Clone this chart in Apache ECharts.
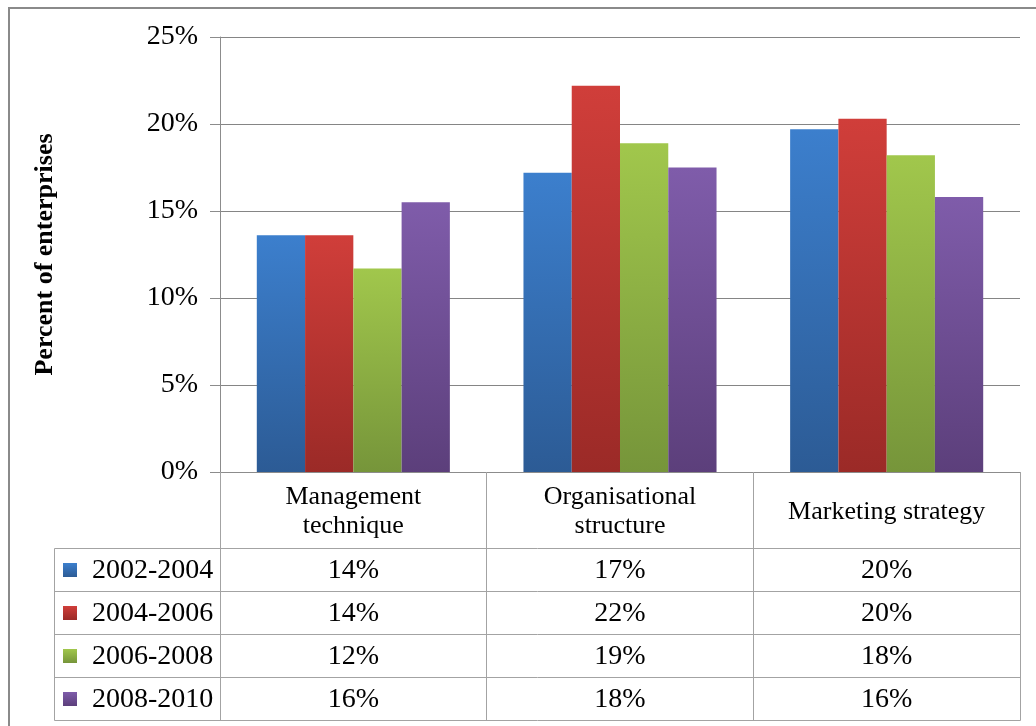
<!DOCTYPE html>
<html>
<head>
<meta charset="utf-8">
<title>Percent of enterprises</title>
<script src="https://cdn.jsdelivr.net/npm/echarts@6/dist/echarts.min.js"></script>
<style>
  html, body { margin: 0; padding: 0; background: #fff; }
  #chart { width: 1036px; height: 726px; }
</style>
</head>
<body>
<div id="chart"></div>
<script>
// categories / series
const categories = ['Management\ntechnique', 'Organisational\nstructure', 'Marketing strategy'];
const seriesNames = ['2002-2004', '2004-2006', '2006-2008', '2008-2010'];
const values2002 = [13.6, 17.2, 19.7];
const values2004 = [13.6, 22.2, 20.3];
const values2006 = [11.7, 18.9, 18.2];
const values2008 = [15.5, 17.5, 15.8];
const yTicks = [0, 5, 10, 15, 20, 25];

const seriesValues = [values2002, values2004, values2006, values2008];
// top / bottom of each bar gradient
const barColors = [
  ['#3c7fcd', '#2c5b95'],
  ['#d03e3a', '#9b2a27'],
  ['#a1c74c', '#76953a'],
  ['#7f5caa', '#5c3f7b'],
];

const font = 'Liberation Serif, Times New Roman, serif';
const gridLeft = 220;
const gridTop = 37;
const gridWidth = 800;
const gridHeight = 435;
const rowTop = 548.5;
const rowHeight = 43;
const tableLeft = 54.5;
const lineColor = '#a3a3a3';

const gradient = pair =>
  new echarts.graphic.LinearGradient(0, 0, 0, 1, [
    { offset: 0, color: pair[0] },
    { offset: 1, color: pair[1] },
  ]);

const myChart = echarts.init(document.getElementById('chart'));

const option = {
  animation: false,
  backgroundColor: '#fff',
  grid: { left: gridLeft, top: gridTop, width: gridWidth, height: gridHeight },
  xAxis: {
    type: 'category',
    data: categories,
    axisLine: { lineStyle: { color: '#8c8c8c', width: 1 } },
    axisTick: { show: true, length: 77, interval: 0, lineStyle: { color: lineColor } },
    axisLabel: {
      interval: 0,
      margin: 40,
      verticalAlign: 'middle',
      lineHeight: 29,
      fontSize: 26,
      fontFamily: font,
      color: '#000',
    },
  },
  yAxis: {
    type: 'value',
    min: yTicks[0],
    max: yTicks[yTicks.length - 1],
    interval: yTicks[1] - yTicks[0],
    name: 'Percent of enterprises',
    nameLocation: 'middle',
    nameRotate: 90,
    nameGap: 162,
    nameTextStyle: { fontSize: 26, fontWeight: 'bold', fontFamily: font, color: '#000' },
    axisLine: { show: true, lineStyle: { color: '#8c8c8c' } },
    axisTick: { show: true, length: 10, lineStyle: { color: '#8c8c8c' } },
    axisLabel: { formatter: '{value}%', margin: 22, fontSize: 28, fontFamily: font, color: '#000' },
    splitLine: { lineStyle: { color: '#858585', width: 1 } },
  },
  series: seriesValues.map((vals, i) => ({
    name: seriesNames[i],
    type: 'bar',
    data: vals,
    barGap: '0%',
    barCategoryGap: '27.6%',
    itemStyle: {
      color: gradient(barColors[i]),
      shadowColor: 'rgba(0,0,0,0.3)',
      shadowBlur: 4,
      shadowOffsetX: 2,
    },
  })),
};

myChart.setOption(option);

/**
 * data table under the axis, placed from the category axis
 */
const buildTable = () => {
  const centers = categories.map((c, i) => myChart.convertToPixel({ xAxisIndex: 0 }, i));
  const band = centers.length > 1 ? centers[1] - centers[0] : gridWidth;
  const edges = [tableLeft, centers[0] - band / 2];
  centers.forEach(c => edges.push(c + band / 2));
  const right = Math.round(edges[edges.length - 1]) + 0.5;
  const bottom = rowTop + rowHeight * seriesNames.length;
  const elements = [];

  // outer frame of the picture
  elements.push({
    type: 'rect',
    shape: { x: 9, y: 8, width: 1060, height: 760 },
    style: { fill: null, stroke: '#8a8a8a', lineWidth: 2 },
    silent: true,
  });

  // horizontal lines
  for (let r = 0; r <= seriesNames.length; r += 1) {
    const y = rowTop + rowHeight * r;
    elements.push({
      type: 'line',
      shape: { x1: tableLeft, y1: y, x2: right, y2: y },
      style: { stroke: lineColor, lineWidth: 1 },
      silent: true,
    });
  }
  // vertical lines
  edges.forEach(x => {
    const xx = Math.round(x - 0.5) + 0.5;
    elements.push({
      type: 'line',
      shape: { x1: xx, y1: rowTop, x2: xx, y2: bottom },
      style: { stroke: lineColor, lineWidth: 1 },
      silent: true,
    });
  });

  seriesNames.forEach((name, r) => {
    const cy = rowTop + rowHeight * (r + 0.5);
    // legend key
    elements.push({
      type: 'rect',
      shape: { x: 63, y: Math.round(cy) - 7, width: 14, height: 14 },
      style: { fill: gradient(barColors[r]) },
      silent: true,
    });
    elements.push({
      type: 'text',
      x: 92,
      y: cy + 1,
      style: {
        text: name,
        font: `28px ${font}`,
        fill: '#000',
        textAlign: 'left',
        textVerticalAlign: 'middle',
      },
      silent: true,
    });
    seriesValues[r].forEach((v, c) => {
      elements.push({
        type: 'text',
        x: centers[c],
        y: cy + 1,
        style: {
          text: `${Math.round(v)}%`,
          font: `28px ${font}`,
          fill: '#000',
          textAlign: 'center',
          textVerticalAlign: 'middle',
        },
        silent: true,
      });
    });
  });

  myChart.setOption({ graphic: { elements } });
};

buildTable();
</script>
</body>
</html>
